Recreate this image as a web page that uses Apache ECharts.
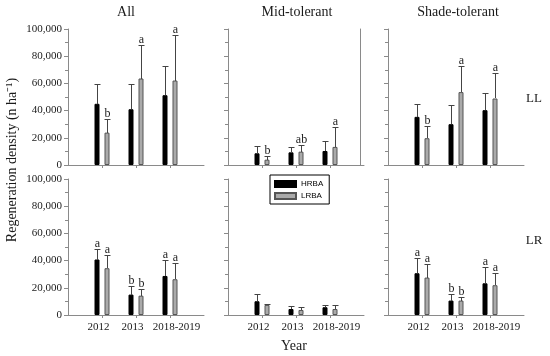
<!DOCTYPE html>
<html><head><meta charset="utf-8">
<script src="https://cdn.jsdelivr.net/npm/echarts@6/dist/echarts.min.js"></script>
<style>html,body{margin:0;padding:0;background:#fff}#c{width:550px;height:356px}</style>
</head><body><div id="c"></div>
<script>
// ---------- data ----------
const years = ['2012', '2013', '2018-2019'];
const panelTitles = ['All', 'Mid-tolerant', 'Shade-tolerant'];
const rowLabels = ['LL', 'LR'];
const groupNames = ['HRBA', 'LRBA'];
const yMax = 100000;
const yStep = 20000;

// LL row: means and standard errors (upper error bar)
const llAllHRBA = [45000, 41000, 51300];
const llAllHRBAse = [14500, 18200, 21200];
const llAllLRBA = [23800, 63600, 62100];
const llAllLRBAse = [10300, 24800, 33400];
const llMidHRBA = [8600, 9300, 10300];
const llMidHRBAse = [5200, 3700, 7100];
const llMidLRBA = [3900, 9800, 13300];
const llMidLRBAse = [2500, 5200, 14500];
const llShadeHRBA = [35400, 30000, 40300];
const llShadeHRBAse = [9800, 14200, 13000];
const llShadeLRBA = [19700, 53600, 48900];
const llShadeLRBAse = [9000, 19400, 18700];

// LR row
const lrAllHRBA = [40800, 15000, 28700];
const lrAllHRBAse = [7600, 6400, 12100];
const lrAllLRBA = [34400, 14200, 26300];
const lrAllLRBAse = [10000, 4700, 11800];
const lrMidHRBA = [10100, 4400, 5700];
const lrMidHRBAse = [5400, 2200, 1900];
const lrMidLRBA = [7400, 3700, 4400];
const lrMidLRBAse = [400, 2000, 3000];
const lrShadeHRBA = [30700, 10600, 23300];
const lrShadeHRBAse = [11500, 4900, 12100];
const lrShadeLRBA = [27500, 10600, 21900];
const lrShadeLRBAse = [10100, 2900, 9300];

// significance letters
const llAllHRBAsig = ['', '', ''];
const llAllLRBAsig = ['b', 'a', 'a'];
const llMidHRBAsig = ['', '', ''];
const llMidLRBAsig = ['b', 'ab', 'a'];
const llShadeHRBAsig = ['', '', ''];
const llShadeLRBAsig = ['b', 'a', 'a'];
const lrAllHRBAsig = ['a', 'b', 'a'];
const lrAllLRBAsig = ['a', 'b', 'a'];
const lrMidHRBAsig = ['', '', ''];
const lrMidLRBAsig = ['', '', ''];
const lrShadeHRBAsig = ['a', 'b', 'a'];
const lrShadeLRBAsig = ['a', 'b', 'a'];

// ---------- chart ----------
const panels = [
  {row: 0, col: 0, h: llAllHRBA, hse: llAllHRBAse, hs: llAllHRBAsig, l: llAllLRBA, lse: llAllLRBAse, ls: llAllLRBAsig},
  {row: 0, col: 1, h: llMidHRBA, hse: llMidHRBAse, hs: llMidHRBAsig, l: llMidLRBA, lse: llMidLRBAse, ls: llMidLRBAsig},
  {row: 0, col: 2, h: llShadeHRBA, hse: llShadeHRBAse, hs: llShadeHRBAsig, l: llShadeLRBA, lse: llShadeLRBAse, ls: llShadeLRBAsig},
  {row: 1, col: 0, h: lrAllHRBA, hse: lrAllHRBAse, hs: lrAllHRBAsig, l: lrAllLRBA, lse: lrAllLRBAse, ls: lrAllLRBAsig},
  {row: 1, col: 1, h: lrMidHRBA, hse: lrMidHRBAse, hs: lrMidHRBAsig, l: lrMidLRBA, lse: lrMidLRBAse, ls: lrMidLRBAsig},
  {row: 1, col: 2, h: lrShadeHRBA, hse: lrShadeHRBAse, hs: lrShadeHRBAsig, l: lrShadeLRBA, lse: lrShadeLRBAse, ls: lrShadeLRBAsig}
];

const serif = "'Liberation Serif', 'Times New Roman', serif";
const sans = "'Liberation Sans', Arial, sans-serif";
const axisColor = '#8a8a8a';
const textColor = '#1a1a1a';
const colLeft = [68, 228, 388];
const rowTop = [29, 179];
const GW = 136, GH = 136;
const catData = [''].concat(years, ['']);
const pad = arr => ['-'].concat(arr, ['-']);

const grid = [], xAxis = [], yAxis = [], series = [];

function errSeries(i, means, ses, sigs, offset) {
  return {
    type: 'custom', xAxisIndex: i, yAxisIndex: i, silent: true, z: 4,
    data: means.map((m, k) => [k + 1, m, m + ses[k]]),
    encode: {x: 0, y: [1, 2]},
    renderItem: (params, api) => {
      const idx = api.value(0);
      const b = api.coord([idx, api.value(1)]);
      const t = api.coord([idx, api.value(2)]);
      const x = Math.round(b[0] + offset) + 0.5;
      const yb = Math.round(b[1]);
      const yt = Math.round(t[1]) + 0.5;
      const st = {stroke: '#444', lineWidth: 1};
      const sig = sigs[params.dataIndex];
      const children = [
        {type: 'line', shape: {x1: x, y1: yb, x2: x, y2: yt}, style: st},
        {type: 'line', shape: {x1: x - 3, y1: yt, x2: x + 3, y2: yt}, style: st}
      ];
      if (sig) {
        children.push({type: 'text', x: x, y: yt + 0.5,
          style: {text: sig, fontFamily: serif, fontSize: 12, fill: textColor, align: 'center', verticalAlign: 'bottom'}});
      }
      return {type: 'group', children: children};
    }
  };
}

panels.forEach((p, i) => {
  grid.push({left: colLeft[p.col], top: rowTop[p.row], width: GW, height: GH});
  xAxis.push({
    gridIndex: i, type: 'category', data: catData, boundaryGap: false,
    axisLine: {lineStyle: {color: axisColor, width: 1}},
    axisTick: {show: true, length: 3, interval: (idx) => idx >= 1 && idx <= 3, lineStyle: {color: axisColor}},
    axisLabel: {show: p.row === 1, interval: 0, fontFamily: serif, fontSize: 11, color: textColor, margin: 7,
      formatter: (v, idx) => v ? '{c' + idx + '|' + v + '}' : '',
      rich: {
        c1: {fontFamily: serif, fontSize: 11, color: textColor, padding: [0, 7, 0, 0]},
        c2: {fontFamily: serif, fontSize: 11, color: textColor, padding: [0, 7, 0, 0]},
        c3: {fontFamily: serif, fontSize: 11, color: textColor, padding: [0, 0, 0, 13]}
      }},
    splitLine: {show: false}
  });
  yAxis.push({
    gridIndex: i, type: 'value', min: 0, max: yMax, interval: yStep,
    axisLine: {show: true, lineStyle: {color: axisColor, width: 1}},
    axisTick: {show: true, length: 4, lineStyle: {color: axisColor}},
    minorTick: {show: true, splitNumber: 2, length: 3, lineStyle: {color: axisColor}},
    axisLabel: {show: p.col === 0, fontFamily: serif, fontSize: 11, color: textColor, margin: 6,
      formatter: v => v.toLocaleString('en-US')},
    splitLine: {show: false}
  });
  series.push({
    type: 'bar', name: groupNames[0], xAxisIndex: i, yAxisIndex: i, data: pad(p.h),
    barWidth: 5, barGap: '100%', silent: true,
    itemStyle: {color: '#000', borderColor: '#000', borderWidth: 1}
  });
  series.push({
    type: 'bar', name: groupNames[1], xAxisIndex: i, yAxisIndex: i, data: pad(p.l),
    barWidth: 5, barGap: '100%', silent: true,
    itemStyle: {color: '#aaaaaa', borderColor: '#555', borderWidth: 1}
  });
  series.push(errSeries(i, p.h, p.hse, p.hs, -5));
  series.push(errSeries(i, p.l, p.lse, p.ls, 5));
});

// right frame line on the top Mid-tolerant panel
yAxis.push({
  gridIndex: 1, type: 'value', position: 'right', offset: -4, min: 0, max: yMax,
  axisLine: {show: true, lineStyle: {color: axisColor, width: 1}},
  axisTick: {show: false}, axisLabel: {show: false}, splitLine: {show: false}
});

const titleX = [126, 297, 458];
const graphic = [];
panelTitles.forEach((t, k) => graphic.push({type: 'text', x: titleX[k], y: 12,
  style: {text: t, fontFamily: serif, fontSize: 14, fill: textColor, align: 'center', verticalAlign: 'middle'}}));
const rowLabelY = [99, 241];
rowLabels.forEach((t, k) => graphic.push({type: 'text', x: 534, y: rowLabelY[k],
  style: {text: t, fontFamily: serif, fontSize: 13, fill: textColor, align: 'center', verticalAlign: 'middle'}}));
graphic.push({type: 'text', x: 294, y: 346,
  style: {text: 'Year', fontFamily: serif, fontSize: 14, fill: textColor, align: 'center', verticalAlign: 'middle'}});
graphic.push({type: 'text', x: 12, y: 160, rotation: Math.PI / 2,
  style: {text: 'Regeneration density (n ha\u207B\u00B9)', fontFamily: serif, fontSize: 14, fill: textColor, align: 'center', verticalAlign: 'middle'}});

const chart = echarts.init(document.getElementById('c'), null, {renderer: 'canvas'});
chart.setOption({
  backgroundColor: '#fff',
  animation: false,
  grid, xAxis, yAxis, series, graphic,
  legend: {
    data: groupNames, left: 270, top: 175, orient: 'vertical', icon: 'rect',
    itemWidth: 21, itemHeight: 6, itemGap: 4, padding: [5, 6, 4, 4],
    borderColor: '#000', borderWidth: 1, selectedMode: false,
    textStyle: {fontFamily: sans, fontSize: 8, color: '#000'}
  }
});
</script>
</body></html>
